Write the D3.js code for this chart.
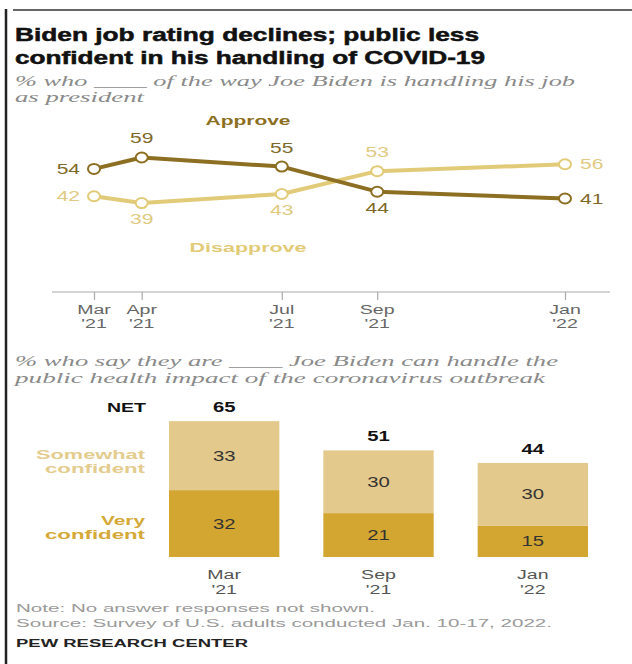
<!DOCTYPE html>
<html><head><meta charset="utf-8">
<script src="https://cdn.jsdelivr.net/npm/d3@7"></script>
<style>html,body{margin:0;padding:0;background:#fff;} svg{display:block;}</style>
</head><body>
<svg id="c" width="632" height="664"></svg>
<script>
// ---- data ----
const lineDates = ["2021-03-01","2021-04-01","2021-07-01","2021-09-01","2022-01-01"];
const tickMonths = ["Mar","Apr","Jul","Sep","Jan"];
const tickYears = ["'21","'21","'21","'21","'22"];
const approve = [54,59,55,44,41];
const disapprove = [42,39,43,53,56];
const barCats = ["Mar '21","Sep '21","Jan '22"];
const barMonths = ["Mar","Sep","Jan"];
const barYears = ["'21","'21","'22"];
const veryConfident = [32,21,15];
const somewhatConfident = [33,30,30];
const netConfident = [65,51,44];

const titleLines = ["Biden job rating declines; public less","confident in his handling of COVID-19"];
const sub1Lines = ["% who ____ of the way Joe Biden  is handling his job","as president"];
const sub2Lines = ["% who say they are ____ Joe Biden  can handle the","public health impact of the coronavirus  outbreak"];
const noteLines = ["Note: No answer responses not shown.","Source: Survey of U.S. adults conducted Jan. 10-17, 2022."];
const credit = "PEW RESEARCH CENTER";

// ---- style ----
const C = {
  approve:"#8c6f22", approveText:"#7f6a2a",
  disapprove:"#e2cb78", disapproveText:"#dfca82",
  very:"#d3a632", somewhat:"#e3c98b",
  veryText:"#d5a937", somewhatText:"#e3cc8e"
};
const SX = 1.45;
const sans = "'Liberation Sans', Arial, sans-serif";
const serif = "'Liberation Serif', 'DejaVu Serif', serif";

const svg = d3.select("#c");

function label(x, y, s, o = {}) {
  const t = svg.append("text")
    .attr("transform", `translate(${x},${y}) scale(${SX},1)`)
    .attr("text-anchor", o.anchor || "start")
    .attr("font-family", o.family || sans)
    .attr("font-size", o.size || 13)
    .attr("font-weight", o.weight || "normal")
    .attr("font-style", o.style || "normal")
    .attr("fill", o.fill || "#333")
    .text(s);
  if (o.stroke) t.attr("stroke", o.fill).attr("stroke-width", o.stroke);
  if (o.w) t.attr("textLength", o.w / SX).attr("lengthAdjust", "spacingAndGlyphs");
  return t;
}

// frame
svg.append("line").attr("x1",6).attr("x2",6).attr("y1",9).attr("y2",664).attr("stroke","#222").attr("stroke-width",2.5);
svg.append("line").attr("x1",13).attr("x2",632).attr("y1",10).attr("y2",10).attr("stroke","#333").attr("stroke-width",1.5);

// title + subtitle
label(15, 41, titleLines[0], {size:18.5, weight:"bold", fill:"#111", w:464, stroke:0.5});
label(15, 64, titleLines[1], {size:18.5, weight:"bold", fill:"#111", w:470, stroke:0.5});
label(15, 86, sub1Lines[0], {size:14.5, style:"italic", family:serif, fill:"#8a8a8a", w:560});
label(15, 102, sub1Lines[1], {size:14.5, style:"italic", family:serif, fill:"#8a8a8a", w:129});

// ---- line chart ----
const parse = d3.timeParse("%Y-%m-%d");
const dates = lineDates.map(parse);
const x = d3.scaleTime().domain([dates[0], dates[dates.length-1]]).range([94, 565]);
const y = d3.scaleLinear().domain([0, 100]).range([292, 64]);

const axisG = svg.append("g").attr("transform","translate(0,292)");
const xAxis = d3.axisBottom(x).tickValues(dates).tickSize(8).tickFormat("");
axisG.call(xAxis);
axisG.select(".domain").remove();
axisG.selectAll(".tick line").attr("stroke","#aaa").attr("stroke-width",1.2);
axisG.append("line").attr("x1",52).attr("x2",610).attr("stroke","#aaa").attr("stroke-width",1.2);
dates.forEach((d,i) => {
  label(x(d), 314, tickMonths[i], {anchor:"middle", size:13.5, fill:"#666"});
  label(x(d), 328, tickYears[i], {anchor:"middle", size:13.5, fill:"#666"});
});

const line = d3.line().x((d,i) => x(dates[i])).y(d => y(d));
const series = [
  {vals:disapprove, other:approve, color:C.disapprove, text:C.disapproveText},
  {vals:approve, other:disapprove, color:C.approve, text:C.approveText}
];
series.forEach(s => {
  svg.append("path").datum(s.vals).attr("d", line).attr("fill","none")
    .attr("stroke", s.color).attr("stroke-width", 4).attr("stroke-linejoin","round");
});
series.forEach(s => {
  svg.selectAll(null).data(s.vals).enter().append("ellipse")
    .attr("cx",(d,i)=>x(dates[i])).attr("cy",d=>y(d)).attr("rx",6).attr("ry",5)
    .attr("fill","#fff").attr("stroke",s.color).attr("stroke-width",2);
  s.vals.forEach((v,i) => {
    const px = x(dates[i]), py = y(v);
    const n = s.vals.length;
    if (i === 0) label(px-14, py+5, v, {anchor:"end", size:14.5, fill:s.text});
    else if (i === n-1) label(px+15, py+5, v, {anchor:"start", size:14.5, fill:s.text});
    else if (v > s.other[i]) label(px, py-14, v, {anchor:"middle", size:14.5, fill:s.text});
    else label(px, py+21, v, {anchor:"middle", size:14.5, fill:s.text});
  });
});
label(248, 125, "Approve", {anchor:"middle", size:13, weight:"bold", fill:C.approve, w:85});
label(248, 252, "Disapprove", {anchor:"middle", size:13, weight:"bold", fill:C.disapprove, w:117});

// ---- bar chart ----
label(15, 366, sub2Lines[0], {size:14.5, style:"italic", family:serif, fill:"#8a8a8a", w:543});
label(15, 383, sub2Lines[1], {size:14.5, style:"italic", family:serif, fill:"#8a8a8a", w:530});

const xb = d3.scaleBand().domain(barCats).range([169, 588]).paddingInner(0.285).paddingOuter(0);
const yb = d3.scaleLinear().domain([0, 100]).range([557, 348]);
const bw = xb.bandwidth();

svg.selectAll(null).data(barCats).enter().append("rect")
  .attr("x", d => xb(d)).attr("width", bw)
  .attr("y", (d,i) => yb(veryConfident[i])).attr("height", (d,i) => yb(0) - yb(veryConfident[i]))
  .attr("fill", C.very);
svg.selectAll(null).data(barCats).enter().append("rect")
  .attr("x", d => xb(d)).attr("width", bw)
  .attr("y", (d,i) => yb(veryConfident[i] + somewhatConfident[i]))
  .attr("height", (d,i) => yb(veryConfident[i]) - yb(veryConfident[i] + somewhatConfident[i]))
  .attr("fill", C.somewhat);

barCats.forEach((c,i) => {
  const cx = xb(c) + bw/2;
  const v = veryConfident[i], s = somewhatConfident[i];
  label(cx, (yb(0)+yb(v))/2 + 5, v, {anchor:"middle", size:14, fill:"#333"});
  label(cx, (yb(v)+yb(v+s))/2 + 5, s, {anchor:"middle", size:14, fill:"#333"});
  label(cx, yb(v+s) - 9, netConfident[i], {anchor:"middle", size:14, weight:"bold", fill:"#111"});
  label(cx, 579, barMonths[i], {anchor:"middle", size:13.5, fill:"#555"});
  label(cx, 594, barYears[i], {anchor:"middle", size:13.5, fill:"#555"});
});

// legend labels beside the first bar
const v0 = veryConfident[0], s0 = somewhatConfident[0];
label(146, yb(netConfident[0]) - 9, "NET", {anchor:"end", size:13, weight:"bold", fill:"#111", w:39});
const sMid = (yb(v0)+yb(v0+s0))/2;
label(145, sMid + 3, "Somewhat", {anchor:"end", size:13, weight:"bold", fill:C.somewhatText, w:109});
label(145, sMid + 17, "confident", {anchor:"end", size:13, weight:"bold", fill:C.somewhatText, w:100});
const vMid = (yb(0)+yb(v0))/2;
label(145, vMid + 1, "Very", {anchor:"end", size:13, weight:"bold", fill:C.veryText, w:44});
label(145, vMid + 15, "confident", {anchor:"end", size:13, weight:"bold", fill:C.veryText, w:100});

// ---- footer ----
label(16, 612, noteLines[0], {size:11.5, fill:"#9a9a9a", w:359});
label(16, 627, noteLines[1], {size:11.5, fill:"#9a9a9a", w:536});
label(16, 647, credit, {size:11, weight:"bold", fill:"#222", w:232});
</script>
</body></html>
